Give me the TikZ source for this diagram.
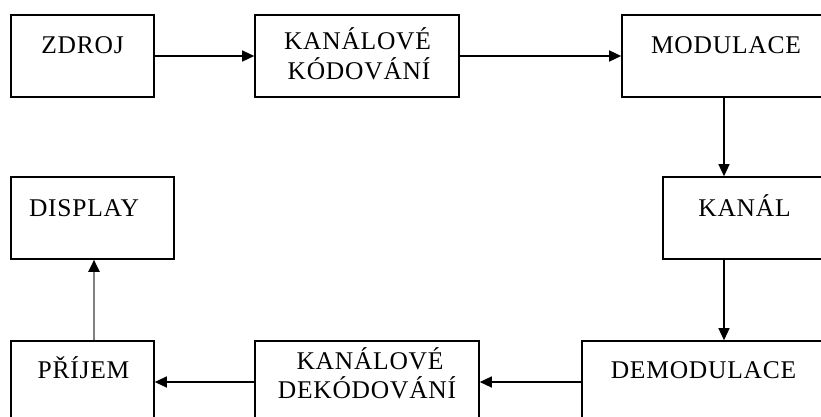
\documentclass[tikz,border=0pt]{standalone}
\usepackage{fontspec}
\newfontfamily\boxfont{Liberation Serif}[LetterSpace=3]
\usetikzlibrary{arrows.meta}
\tikzset{
  box/.style={draw=black, line width=1.6pt, rectangle, minimum height=82pt, inner sep=0pt, fill=white},
  lbl/.style={anchor=base, inner sep=0pt, font=\boxfont\fontsize{25.5}{30}\selectfont},
  arr/.style={line width=1.3pt, -{Triangle[length=12pt,width=11pt]}},
  grayarr/.style={line width=2pt, draw={rgb,255:red,128;green,128;blue,128}, -{Triangle[length=12pt,width=11pt,color=black]}}
}
\begin{document}
\begin{tikzpicture}[x=1pt,y=-1pt]
\useasboundingbox (0,0) rectangle (821,416);
\clip (0,0) rectangle (821,416);
\fill[white] (0,0) rectangle (821,416);
% boxes
\node[box, minimum width=143pt] (zdroj) at (82.5,56) {};
\node[box, minimum width=204pt] (kod) at (357,56) {};
\node[box, minimum width=204pt] (mod) at (724,56) {};
\node[box, minimum width=163pt] (display) at (92.5,218) {};
\node[box, minimum width=163pt] (kanal) at (744.5,218) {};
\node[box, minimum width=244pt] (demod) at (704,382) {};
\node[box, minimum width=224pt] (dek) at (367,382) {};
\node[box, minimum width=143pt] (prijem) at (82.5,382) {};
% labels
\node[lbl] (tzdroj) at (82.5,53) {ZDROJ};
\node[lbl] (tkodA) at (357.5,49) {KANÁLOVÉ};
\node[lbl] (tkodB) at (359,79) {KÓDOVÁNÍ};
\node[lbl] (tmod) at (726,53) {MODULACE};
\node[lbl] (tdisplay) at (84,216.5) {DISPLAY};
\node[lbl] (tkanal) at (744.5,216) {KANÁL};
\node[lbl] (tdemod) at (703.5,378) {DEMODULACE};
\node[lbl] (tdekA) at (370,369) {KANÁLOVÉ};
\node[lbl] (tdekB) at (367,398) {DEKÓDOVÁNÍ};
\node[lbl] (tprijem) at (83.5,378) {PŘÍJEM};
% connectors
\coordinate (up) at (94,0);
\draw[arr] (zdroj) -- (kod);
\draw[arr] (kod) -- (mod);
\draw[arr] (mod.south) -- (mod.south |- kanal.north);
\draw[arr] (mod.south |- kanal.south) -- (mod.south |- demod.north);
\draw[arr] (demod) -- (dek);
\draw[arr] (dek) -- (prijem);
\draw[grayarr] (prijem.north -| up) -- (display.south -| up);
\end{tikzpicture}
\end{document}
